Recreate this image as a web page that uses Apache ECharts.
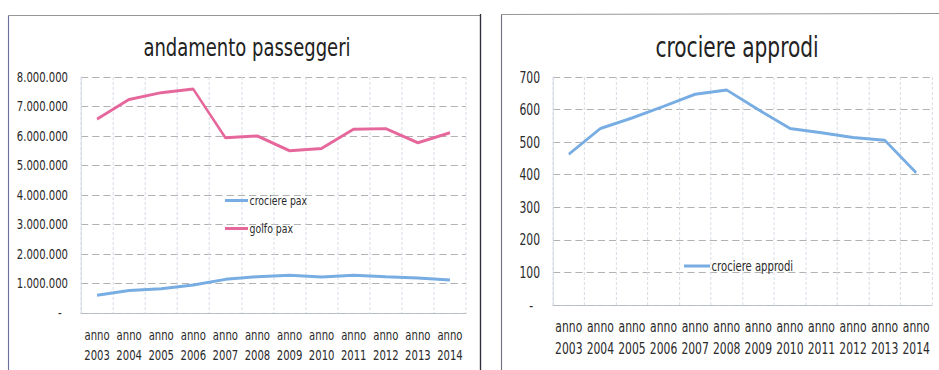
<!DOCTYPE html>
<html>
<head>
<meta charset="utf-8">
<script src="https://cdn.jsdelivr.net/npm/echarts@6/dist/echarts.min.js"></script>
<style>
  html, body { margin: 0; padding: 0; background: #fff; overflow: hidden; }
  #wrap { width: 939px; height: 370px; overflow: hidden; }
  /* the chart is laid out wider and compressed horizontally, giving a narrow typeface look */
  #chart { height: 370px; transform-origin: 0 0; }
</style>
</head>
<body>
<div id="wrap"><div id="chart"></div></div>
<script>
// Years shown on both category axes
const years = ['2003', '2004', '2005', '2006', '2007', '2008', '2009', '2010', '2011', '2012', '2013', '2014'];

// Passenger totals per year
const crocierePax = [600000, 760000, 820000, 950000, 1140000, 1230000, 1280000, 1220000, 1280000, 1230000, 1190000, 1120000];
const golfoPax = [6570000, 7240000, 7470000, 7590000, 5940000, 6000000, 5500000, 5580000, 6230000, 6250000, 5770000, 6110000];

// Cruise ship calls per year
const crociereApprodi = [463, 542, 574, 610, 647, 660, 600, 542, 529, 514, 506, 406];

// Axis tick settings
const paxTicks = { min: 0, max: 8000000, interval: 1000000 };
const approdiTicks = { min: 0, max: 700, interval: 100 };

const SX = 0.8;                      // horizontal compression of the whole drawing
const X = px => px / SX;             // page x -> layout x

const el = document.getElementById('chart');
el.style.width = X(939) + 'px';
el.style.transform = 'scaleX(' + SX + ')';

const FONT = '"DejaVu Sans Condensed", "DejaVu Sans", sans-serif';
const TEXT = '#2a2a2a';
const BLUE = '#77ade2';
const PINK = '#e6679c';

function thousands(v) {
  return String(v).replace(/\B(?=(\d{3})+(?!\d))/g, '.');
}

const hSplit = { show: true, lineStyle: { color: '#a9a9a9', type: [9, 5], width: 1 } };
const vSplit = { show: true, lineStyle: { color: '#d3d9e2', type: [3, 2], width: 1 } };

const chart = echarts.init(el, null, { renderer: 'svg' });

chart.setOption({
  backgroundColor: '#fff',
  animation: false,
  graphic: [
    // left panel frame
    { type: 'line', shape: { x1: X(8.5), y1: 15.5, x2: X(481), y2: 15.5 }, style: { stroke: '#8a8a8a', lineWidth: 1 } },
    { type: 'line', shape: { x1: X(8.5), y1: 15.5, x2: X(8.5), y2: 370 }, style: { stroke: '#6d6f9e', lineWidth: 1.4 } },
    { type: 'line', shape: { x1: X(480.5), y1: 14, x2: X(480.5), y2: 370 }, style: { stroke: '#2e2e3c', lineWidth: 1.7 } },
    // right panel frame
    { type: 'line', shape: { x1: X(501.5), y1: 14.5, x2: X(939), y2: 13.5 }, style: { stroke: '#8a8a8a', lineWidth: 1 } },
    { type: 'line', shape: { x1: X(501.5), y1: 14.5, x2: X(501.5), y2: 370 }, style: { stroke: '#6f6f7f', lineWidth: 1.4 } }
  ],
  title: [
    {
      text: 'andamento passeggeri', left: X(243), top: 30, textAlign: 'center',
      textStyle: { fontFamily: FONT, fontSize: 25, fontWeight: 'normal', color: '#222' }
    },
    {
      text: 'crociere approdi', left: X(733), top: 28, textAlign: 'center',
      textStyle: { fontFamily: FONT, fontSize: 28, fontWeight: 'normal', color: '#222' }
    }
  ],
  legend: [
    {
      orient: 'vertical', left: X(225), top: 194, padding: 0, itemGap: 15, itemWidth: X(23), itemHeight: 3, icon: 'rect',
      data: ['crociere pax', 'golfo pax'],
      textStyle: { fontFamily: FONT, fontSize: 13, color: TEXT, padding: [0, 0, 0, -3] }
    },
    {
      orient: 'vertical', left: X(684), top: 259, padding: 0, itemWidth: X(26), itemHeight: 3, icon: 'rect',
      data: ['crociere approdi'],
      textStyle: { fontFamily: FONT, fontSize: 14, color: TEXT, padding: [0, 0, 0, -3] }
    }
  ],
  grid: [
    { left: X(81), top: 77, width: X(385), height: 236, containLabel: false },
    { left: X(553), top: 77, width: X(379), height: 228, containLabel: false }
  ],
  xAxis: [
    {
      type: 'category', gridIndex: 0, data: years, boundaryGap: true,
      axisLine: { lineStyle: { color: '#b8bcc6' } }, axisTick: { show: false },
      axisLabel: { interval: 0, margin: 12, fontFamily: FONT, fontSize: 14, color: TEXT, lineHeight: 20,
        formatter: v => 'anno\n' + v },
      splitLine: vSplit
    },
    {
      type: 'category', gridIndex: 1, data: years, boundaryGap: true,
      axisLine: { lineStyle: { color: '#b8bcc6' } }, axisTick: { show: false },
      axisLabel: { interval: 0, margin: 10, fontFamily: FONT, fontSize: 15, color: TEXT, lineHeight: 22,
        formatter: v => 'anno\n' + v },
      splitLine: vSplit
    }
  ],
  yAxis: [
    {
      type: 'value', gridIndex: 0, min: paxTicks.min, max: paxTicks.max, interval: paxTicks.interval,
      axisLine: { show: true, lineStyle: { color: '#d3d9e2' } }, axisTick: { show: false },
      axisLabel: { margin: X(13), fontFamily: FONT, fontSize: 14, color: TEXT,
        formatter: v => v === 0 ? '-  ' : thousands(v) },
      splitLine: hSplit
    },
    {
      type: 'value', gridIndex: 1, min: approdiTicks.min, max: approdiTicks.max, interval: approdiTicks.interval,
      axisLine: { show: true, lineStyle: { color: '#d3d9e2' } }, axisTick: { show: false },
      axisLabel: { margin: X(13), fontFamily: FONT, fontSize: 15, color: TEXT,
        formatter: v => v === 0 ? '-  ' : String(v) },
      splitLine: hSplit
    }
  ],
  series: [
    {
      name: 'crociere pax', type: 'line', xAxisIndex: 0, yAxisIndex: 0, data: crocierePax,
      showSymbol: false, lineStyle: { color: BLUE, width: 3 }, itemStyle: { color: BLUE }
    },
    {
      name: 'golfo pax', type: 'line', xAxisIndex: 0, yAxisIndex: 0, data: golfoPax,
      showSymbol: false, lineStyle: { color: PINK, width: 3 }, itemStyle: { color: PINK }
    },
    {
      name: 'crociere approdi', type: 'line', xAxisIndex: 1, yAxisIndex: 1, data: crociereApprodi,
      showSymbol: false, lineStyle: { color: BLUE, width: 3 }, itemStyle: { color: BLUE }
    }
  ]
});
</script>
</body>
</html>
